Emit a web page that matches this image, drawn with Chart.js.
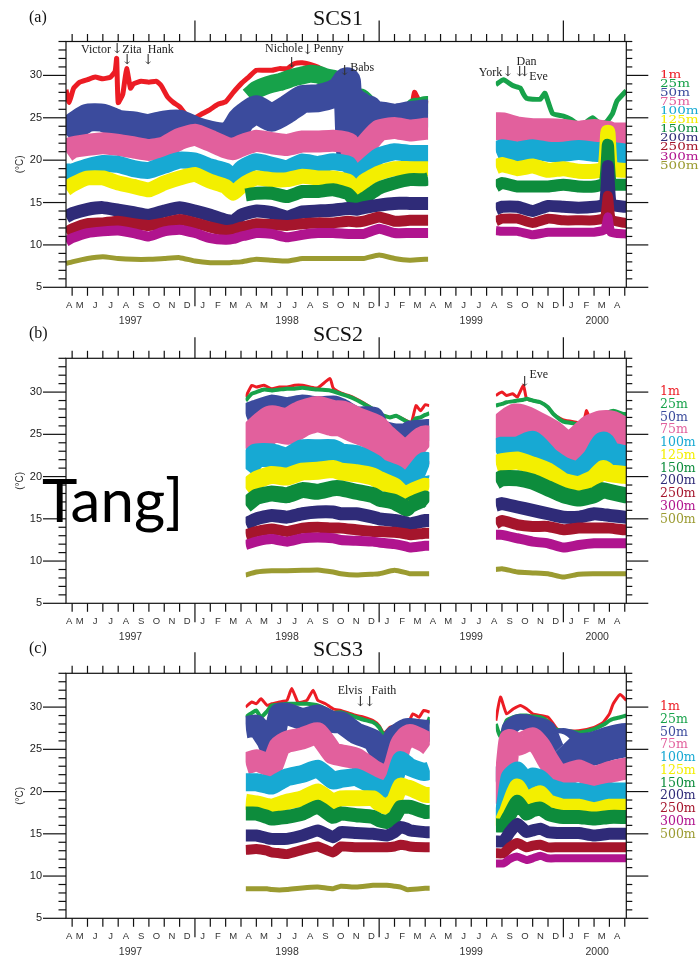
<!DOCTYPE html>
<html><head><meta charset="utf-8">
<script src="https://cdn.jsdelivr.net/npm/chart.js@4/dist/chart.umd.min.js"></script>
<style>
html,body{margin:0;padding:0;background:#fff;}
#wrap{position:relative;width:699px;height:957px;overflow:hidden;background:#fff;}
canvas{position:absolute;left:0;}
</style></head><body>
<div id="wrap">
<canvas id="cA" width="699" height="330" style="top:0px"></canvas>
<canvas id="cB" width="699" height="330" style="top:316px"></canvas>
<canvas id="cC" width="699" height="326" style="top:631px"></canvas>
</div>
<script>
// ---- labels ----
const depths = ['1m','25m','50m','75m','100m','125m','150m','200m','250m','300m','500m'];
const monthLetters = ['J','F','M','A','M','J','J','A','S','O','N','D'];
const yearLabels = ['1997','1998','1999','2000'];
const yearCenters = [7.8, 18, 30, 38.2];          // months since Jan 1997
const yTickLabels = [5,10,15,20,25,30];

// ---- SCS1 (months since 1 Jan 1997) ----
const scs1_deploy = [[3.6, 27.2], [31.6, 40.1]];
const scs1_t = [3.6,4,5,6,7,8,9,10,11,12, 13,14,14.5,15,15.3,16,17,18,19,20, 21,22,22.5,23,24,25,26,27,27.2,29, 31.6,32,33,34,35,36,37,38,38.7,38.9, 39.1,40,40.1];
const scs1_t50 = [3.6,4,5,6,7,8,9,10,11,12, 13,14,14.5,15,15.3,16,17,18,19,20, 21,21.5,21.9,22.1,22.3,22.5,22.7,23,23.3,23.6, 24,25,26,27,27.2];
const scs1_50m  = [23,23.8,25,25,24.3,24.1,23.8,24.2,24.3,23.5, 23,22.8,23.3,24.7,25.2,26,25,26,27.2,27.3, 27.8,28.3,29.3,21,27,21.5,26.5,22.5,26,25, 25.3,25,25.3,25.5,25.5];
const scs1_75m  = [21,21.5,21.8,22,21.8,21.5,21.2,21.5,22.5,23, 22.3,21.5,21.3,21.7,21.9,22.3,22,21.8,22.2,22.2, 22.3,22,19.5,21.5,23.5,23.8,23.5,23.7,23.7,null, 24,24,23.5,23.3,23.3,23.2,23,23.2,23,23, 22.8,22.8,22.8];
const scs1_100m = [18.6,18.6,19.2,19.6,19.5,19,18.8,19.4,20,19.9, 19.2,18.7,17.9,18.9,19.3,19.8,19.4,19,19.8,19.5, 19.8,19.5,18,19,20.5,21,20.8,20.8,20.8,null, 21,21.3,21,21.3,21,21,21.2,21,21,21.5, 21,20.8,20.8];
const scs1_125m = [16.6,17.1,17.9,17.9,17.3,16.9,16.5,17.3,17.9,18.3, 17.5,16.9,16.1,16.9,17.3,17.9,17.7,17.7,18.1,17.9, 17.9,17.5,16.5,17.5,18.5,19,19,19,19,null, 19.2,19.5,19,19.3,18.8,19,18.7,18.7,19,23.3, 19,18.8,18.8];
const scs1_150m = [null,null,null,null,null,null,null,null,null,null, null,null,null,null,15.9,16.1,16.1,15.7,16.3,16.3, 16.5,16,15,15.5,16.7,17.3,17.7,17.7,17.8,null, 16.9,17.3,16.9,16.9,16.9,17.1,16.9,16.9,17.3,21.8, 17.2,17.1,17.1];
const scs1_200m = [13.3,13.7,14.2,14.4,14.1,13.8,13.5,14,14.4,14, 13.5,12.9,12.8,13.5,13.7,14,13.8,13.3,13.9,14, 14.1,14.3,14.2,14.4,14.7,14.9,14.9,14.9,14.9,null, 14.2,14.5,14.5,14,14.6,14.5,14.4,14.5,14.8,19.3, 14.8,14.5,14.5];
const scs1_250m = [11.5,11.9,12.5,12.6,12.8,12.5,12.3,12.6,13,12.6, 12.1,11.7,11.8,12.1,12.2,12.5,12.4,12.3,12.5,12.6, 12.6,12.8,12.7,12.8,13.3,12.8,12.9,12.9,12.9,null, 12.8,13.1,13.1,12.6,13.1,12.9,12.9,12.9,13.2,15.8, 13,12.6,12.6];
const scs1_300m = [10.4,10.8,11.4,11.6,11.7,11.4,11,11.6,11.8,11.4, 10.8,10.6,10.7,11,11.1,11.4,11.3,10.9,11.2,11.4, 11.4,11.3,11.3,11.3,11.9,11.4,11.4,11.4,11.4,null, 11.7,11.6,11.6,11.2,11.5,11.5,11.5,11.5,11.8,13.3, 11.5,11.3,11.3];
const scs1_500m = [7.8,8,8.4,8.6,8.4,8.3,8.3,8.4,8.5,8.1, 7.9,7.9,7.95,8,8.1,8.3,8.2,8.1,8.4,8.4, 8.4,8.4,8.4,8.4,8.8,8.4,8.2,8.3,8.3,null, null,null,null,null,null,null,null,null,null,null, null,null,null];
const scs1_tTop = [3.6,3.8,4.1,4.5,5,5.5,6,6.5,6.8,6.9, 7,7.3,7.55,7.8,8,8.5,9,9.5,9.8,10.2, 10.6,11,11.5,12,12.5,13,13.5,14,14.5,15, 15.5,16,16.5,17,17.5,18,18.5,19,19.5,20, 20.5,21,21.5,21.9,22.2,22.8,23.5,24,24.5,25, 25.5,26,26.3,26.6,27,27.2,29,31.6,32.1,32.7, 33.2,33.4,33.6,34,34.5,34.8,35.3,36,36.5,37.1, 37.5,37.9,38.4,38.8,39.2,39.5,40.1];
const scs1_1m  = [28.3,26.8,28.5,29.2,29.5,29.8,29.6,29.8,30.5,32, 26.8,27.8,30.8,28.5,29,29.3,29.2,29.3,28.8,27.5, 26.8,26.3,25.2,25,25.5,26,26.6,26.9,28,29, 29.8,30.6,30.6,30.6,30.8,30.8,31.4,31.5,31.3,31, 30.5,30.2,29.8,29.3,26.2,27.2,26.3,25.5,24.8,24.5, 24.7,25,28,27,26.8,26.7,null,null,null,null, null,null,null,null,null,null,null,null,null,null, null,null,null,null,null,null,null];
const scs1_25m = [null,null,null,null,null,null,null,null,null,null, null,null,null,null,null,null,null,null,null,null, null,null,null,null,null,null,null,null,null,null, 27.5,28.3,28.7,29,29.2,29.5,29.8,30,30.2,30.1, 29.8,29.6,29.3,29,26.2,27.4,26.2,25.3,24.6,24.3, 24.5,24.9,26.3,26.3,26.5,26.5,null,28.9,29.5,28.8, 28.5,27.8,27.3,27.2,27.2,27.9,25.5,25.2,24.8,24.1, 24.5,25,24.3,24.5,25.5,27,28.2];

// ---- SCS2 ----
const scs2_deploy = [[15.3, 27.27], [31.6, 40.1]];
const scs2_t = [15.3,16,17,18,19,20,21,21.5,22.5,23.6, 24,25,25.8,26,27,27.27,29,31.6,32,33, 34,35,36,37,38,38.6,39,40,40.1];
const scs2_50m  = [27.3,27.8,28.4,28.1,28.4,28.2,28.3,28,27,27, 25.5,25,25,25.3,25.5,25.5,null,null,null,null, null,null,null,null,null,null,null,null,null];
const scs2_75m  = [23.3,24.7,26.3,25.9,26.9,27.4,26.9,26.9,26.1,25.3, 24.5,22.9,21.1,22.1,23.9,23.5,null,24.3,24.9,26.3, 25.5,24.5,23.1,23.5,25.1,25.5,25.5,24.5,24.5];
const scs2_100m = [20.9,22.5,22.5,22,23,23,23,22.5,22.3,21.3, 20.7,20,18.8,19.2,21.5,21.3,null,22.9,23.3,23.3, 24,22.1,20.9,20.4,22.1,23.9,22.7,22.3,22.3];
const scs2_125m = [18.6,19.6,20.2,20,20.6,20.7,20.9,20.6,20.4,20, 19.6,18.8,17.4,18,18.8,18.6,null,21.5,21.7,21.9, 21.3,20.6,19.4,19,19.8,20.9,20.4,20.2,20.2];
const scs2_150m = [16.6,17.6,18,17.8,18.4,18.2,18.6,18.6,18.2,17.8, 17.4,17,16.2,16.6,17.4,17,null,19.4,19.8,19.8, 19.4,18.6,17.8,17.4,17.8,18.4,18.2,17.8,17.8];
const scs2_200m = [14.4,15,15.4,15.2,15.6,15.8,15.8,15.6,15.6,15.2, 15,14.8,14.5,14.4,14.8,14.8,null,16.6,16.8,16.4, 16,15.6,15.2,15.2,15.6,15.5,15.4,15.2,15.2];
const scs2_250m = [13.1,13.5,13.8,13.5,13.9,14,13.9,13.9,13.7,13.5, 13.5,13.4,13.2,13.1,13.3,13.3,null,14.4,14.8,14.3, 14.1,14.1,13.7,13.9,13.9,13.9,13.9,13.7,13.7];
const scs2_300m = [11.9,12.3,12.6,12.3,12.7,12.8,12.7,12.5,12.4,12.3, 12.2,12,11.7,11.6,11.8,11.8,null,13.1,13.1,12.7, 12.3,12.1,11.6,11.9,12.1,12.1,12.1,12.1,12.1];
const scs2_500m = [8.35,8.7,8.85,8.85,8.9,8.95,8.7,8.5,8.35,8.45, 8.5,8.9,8.6,8.5,8.5,8.5,null,9,9.1,8.7, 8.6,8.5,8.1,8.45,8.5,8.5,8.5,8.5,8.5];
const scs2_tTop = [15.3,15.7,16,16.5,17,17.5,18,18.5,19,19.5, 20,20.8,21,21.5,22,22.5,23,23.6,24,24.7, 25.1,25.8,26.1,26.4,26.7,27,27.27,29,31.6,32, 32.3,32.7,33,33.4,33.6,34,34.5,35,35.35,36, 36.65,37.3,37.5,37.7,37.95,38.6,39.25,39.9,40.1];
const scs2_1m  = [29.4,30.8,30.6,30.8,30.4,30.6,30.6,30.8,30.8,30.6, 30.5,31.6,30.5,29.9,29.6,29.2,28.7,28,27.4,27, 27.2,26.6,26.4,28.4,27.8,28.5,28.4,null,29.6,30, 29.6,29.8,29.4,30.8,29.2,29,28.8,28.2,27.4,26.7, 26.5,26.4,27.8,26.9,null,null,null,null,null];
const scs2_25m = [29,29.8,30,30.3,30.2,30.3,30.4,30.4,30.5,30.4, 30.3,30.2,30.1,29.8,29.5,29.1,28.6,28,27.4,27, 27.2,26.5,26.3,26.9,27,27.3,27.5,null,28.4,28.6, 28.8,28.9,29,29.1,29.2,29,28.8,28.2,27.4,26.5, 26.3,26.1,26.6,26.9,27.2,27.4,27.8,27.4,27.4];

// ---- SCS3 ----
const scs3_deploy = [[15.3, 27.3], [31.6, 40.1]];
const scs3_t = [15.3,16,16.7,17,17.5,18,19,20,21,21.5, 22.5,23.6,24,24.5,25,25.4,25.8,26,27,27.3, 29,31.6,32.1,32.5,33,33.6,34,34.5,35,35.6, 36,37,38,39,40,40.1];
const scs3_50m  = [27.6,27.8,26.1,25,29.2,29.2,28.6,29,28.2,28.2, 26.9,26.1,24.9,24.1,26.5,27,27.4,27.4,27.2,27.2, null,23,21.5,27.5,28.2,28.2,28,27.8,27.4,24.9, 25.5,24.9,25.1,25.7,26.1,26.1];
const scs3_75m  = [23.3,23.7,23.2,22.9,25.3,25.9,26.3,26.9,24.5,24.3, 23.9,22.5,22.1,21.6,23,25.5,26.5,26.7,25.9,25.5, null,21.3,19.5,26.1,25.5,26,26.3,25.3,23.7,22.1, 21.9,22.5,21.7,22.3,22.7,22.7];
const scs3_100m = [21.1,21.1,20.8,20.7,21.2,21.7,22.1,22.7,21.3,21.5, 21.7,20.7,20.4,20.2,21.5,23.7,23.2,22.9,22.3,22.5, null,18.2,17.5,21.7,22.5,21.1,21.8,21.5,20.6,20.2, 20,20,19.6,20,20,20];
const scs3_125m = [18.8,18.6,18.3,18.2,18.5,18.8,19.2,20,18.8,19.2, 19.2,19.2,18.6,18.2,19,20.7,20.5,20.4,19.6,19.6, null,17,16.6,18.5,20.6,18.8,19.4,19.8,18.8,18.4, 18.2,18.2,17.8,18.2,18.2,18.2];
const scs3_150m = [17.4,17.4,17,16.8,16.9,17,17.4,18.2,17,17.4, 17.2,17,16.6,16.4,17,18.2,18.2,18.2,17.6,17.6, null,16,16,17.2,18.8,17.4,17.8,18,17.4,17.1, 17,17,16.8,17,17,17];
const scs3_200m = [14.8,14.8,14.5,14.4,14.4,14.4,14.8,15.4,14.6,15.2, 15.1,15,14.9,14.8,15.2,15.8,15.6,15.4,15.2,15.2, null,14.1,14.1,15.2,16.2,15.2,15.4,15.6,15.2,15.1, 15.1,15.1,14.8,15,15,15];
const scs3_250m = [13.1,13.2,13,12.8,12.7,12.6,13.1,13.5,12.8,13.5, 13.4,13.4,13.4,13.4,13.5,13.7,13.6,13.5,13.4,13.4, null,12.7,12.7,13.4,13.9,13.4,13.6,13.7,13.4,13.4, 13.4,13.4,13.4,13.4,13.4,13.4];
const scs3_300m = [null,null,null,null,null,null,null,null,null,null, null,null,null,null,null,null,null,null,null,null, null,11.5,11.5,12,12.3,11.9,12.1,12.4,12.1,12.1, 12.1,12.1,12.1,12.1,12.1,12.1];
const scs3_500m = [8.5,8.5,8.5,8.4,8.35,8.4,8.6,8.7,8.5,8.8, 8.7,8.9,8.9,8.9,8.8,8.7,8.4,8.4,8.55,8.55, null,null,null,null,null,null,null,null,null,null, null,null,null,null,null,null];
const scs3_tTop = [15.3,15.7,16,16.3,16.7,17,17.5,18,18.3,18.7, 19,19.3,19.7,20,20.5,21,21.5,22,22.5,23, 23.6,24,24.3,24.7,25.1,25.8,26.2,26.6,26.9,27.3, 29,31.6,31.9,32.3,32.75,33.2,33.6,34,34.5,35, 35.35,35.6,36,37,38,38.6,39,39.25,39.7,40.1];
const scs3_1m  = [30,30.6,30.4,31,30.2,30.4,30.6,30.8,32.2,30.6, 30.6,30.8,32,30.8,30.4,29.8,29.6,29.3,29,28.8, 28.4,27.8,26.9,27.6,27.8,27.8,29.2,28.8,29.6,29.4, null,28.4,31.2,29.2,29.8,30.2,29.8,29.2,29,28.8, 28,27.4,27.2,27.2,27.6,28.2,29.2,30.4,31.5,30.8];
const scs3_25m = [28.8,29.3,29.6,28.8,29.5,30.2,30.3,30.4,30.4,30.4, 30.4,30.4,30.3,30.2,29.8,29.3,29.4,29.1,28.8,28.5, 28.2,27.6,26.7,27.4,27.8,27.4,27.5,27.6,26.9,28.8, null,28,26.5,28.4,28.8,29,29,28.9,28.8,28.3, 27.6,27.3,27.2,27,27.4,27.9,28.4,28.6,28.8,29];

// ---- storm annotations (month, degC) ----
const notesA = [
  {s:'Victor',x:5.55,y:33.0},{s:'\u2193',x:6.94,y:33.1,a:1},{s:'Zita',x:7.9,y:33.0},{s:'\u2193',x:7.59,y:31.8,a:1},
  {s:'Hank',x:9.78,y:33.0},{s:'\u2193',x:8.96,y:31.8,a:1},{s:'Nichole',x:17.8,y:33.1},{s:'\u2193',x:18.32,y:31.4,a:1},
  {s:'\u2193',x:19.36,y:33.0,a:1},{s:'Penny',x:20.7,y:33.1},{s:'\u2193',x:21.77,y:30.5,a:1},{s:'Babs',x:22.9,y:30.9},
  {s:'York',x:31.25,y:30.3},{s:'\u2193',x:32.4,y:30.4,a:1},{s:'Dan',x:33.6,y:31.6},{s:'\u2193',x:33.17,y:30.35,a:1},
  {s:'\u2193',x:33.5,y:30.35,a:1},{s:'Eve',x:34.38,y:29.84}
];
const notesB = [{s:'Eve',x:34.4,y:32.0},{s:'\u2193',x:33.5,y:31.15,a:1}];
const notesC = [{s:'Elvis',x:22.1,y:31.94},{s:'Faith',x:24.31,y:31.94},{s:'\u2193',x:22.8,y:30.55,a:1},{s:'\u2193',x:23.4,y:30.55,a:1}];

// ---- styles ----
const colors = ['#ec1c24','#17a24a','#3b4b9d','#e2609d','#17a9d3','#f3ef00','#0d8c3c','#2f2b78','#a5152c','#b0148e','#9b9b31'];

const deployClip = {
  id: 'deployClip',
  beforeDatasetsDraw(chart, args, o) {
    const ctx = chart.ctx, xs = chart.scales.x, a = chart.chartArea;
    ctx.save();
    ctx.beginPath();
    o.ranges.forEach(r => {
      const x0 = xs.getPixelForValue(r[0]), x1 = xs.getPixelForValue(r[1]);
      ctx.rect(x0, a.top, x1 - x0, a.bottom - a.top);
    });
    ctx.clip();
  },
  afterDatasetsDraw(chart) { chart.ctx.restore(); }
};

const framePlugin = {
  id: 'frame',
  afterDraw(chart, args, o) {
    const ctx = chart.ctx, xs = chart.scales.x, ys = chart.scales.y, a = chart.chartArea;
    const ln = (x1,y1,x2,y2) => { ctx.beginPath(); ctx.moveTo(x1,y1); ctx.lineTo(x2,y2); ctx.stroke(); };
    ctx.save();
    ctx.strokeStyle = '#111'; ctx.lineWidth = 1.2;
    ctx.strokeRect(a.left, a.top, a.right - a.left, a.bottom - a.top);
    for (let v = 5; v <= 34; v++) {
      const y = ys.getPixelForValue(v), major = v % 5 === 0;
      ln(a.left - (major ? 23 : 7.5), y, a.left, y);
      ln(a.right, y, a.right + (major ? 22 : 6), y);
    }
    for (let m = 4; m <= 40; m++) {
      const x = xs.getPixelForValue(m), yr = m % 12 === 0;
      ln(x, a.top, x, a.top - (yr ? 21 : 7.5));
      ln(x, a.bottom, x, a.bottom + (yr ? 19 : 8.5));
    }
    ctx.fillStyle = '#222';
    ctx.font = '11px "Liberation Sans", Arial, sans-serif';
    ctx.textAlign = 'right'; ctx.textBaseline = 'middle';
    yTickLabels.forEach(v => ctx.fillText(String(v), a.left - 24, ys.getPixelForValue(v)));
    ctx.fillStyle = '#333';
    ctx.font = '9.5px "Liberation Sans", Arial, sans-serif';
    ctx.textAlign = 'center';
    for (let m = 3; m <= 39; m++) {
      const c = m === 3 ? (xs.min + 4) / 2 : m + 0.5;
      ctx.fillText(monthLetters[m % 12], xs.getPixelForValue(c), a.bottom + 18.5);
    }
    ctx.font = '10.5px "Liberation Sans", Arial, sans-serif';
    yearLabels.forEach((s, i) => ctx.fillText(s, xs.getPixelForValue(yearCenters[i]), a.bottom + 33.5));
    ctx.save();
    ctx.translate(20, (a.top + a.bottom) / 2); ctx.rotate(-Math.PI / 2);
    ctx.font = '10px "Liberation Sans", Arial, sans-serif'; ctx.fillStyle = '#333';
    ctx.fillText('(\u00B0C)', 0, 0);
    ctx.restore();
    ctx.fillStyle = '#111';
    ctx.textBaseline = 'alphabetic';
    ctx.font = '22px "Liberation Serif", "Times New Roman", serif';
    ctx.textAlign = 'center';
    ctx.fillText(o.title, 338, a.top - 17);
    ctx.font = '16px "Liberation Serif", "Times New Roman", serif';
    ctx.textAlign = 'left';
    ctx.fillText(o.tag, 29, a.top - 20);
    ctx.textAlign = 'center'; ctx.textBaseline = 'middle';
    o.notes.forEach(n => {
      ctx.font = n.a ? '14px "DejaVu Serif", serif' : '12px "Liberation Serif", serif';
      ctx.fillStyle = n.a ? '#333' : '#222';
      ctx.fillText(n.s, xs.getPixelForValue(n.x), ys.getPixelForValue(n.y));
    });
    ctx.textAlign = 'left';
    depths.forEach((d, i) => {
      ctx.save();
      ctx.translate(660, a.top + 33.5 + i * o.legendStep);
      ctx.scale(1, o.legendSY);
      ctx.font = o.legendFont;
      ctx.fillStyle = colors[i];
      ctx.fillText(d, 0, 0);
      ctx.restore();
    });
    if (o.overlay) {
      ctx.fillStyle = '#000';
      ctx.textBaseline = 'alphabetic';
      ctx.font = '60px Lato, "Open Sans", sans-serif';
      ctx.fillText(o.overlay, 42, 521.5 - o.canvasTop);
    }
    ctx.restore();
  }
};

// series: list of [timeArray, valueArray]; widths: list of [fromMonth, px] steps per series
function makeChart(id, series, widths, padTop, padBottom, deploy, frame) {
  const datasets = depths.map((d, i) => {
    const [tArr, vals] = series[i];
    const steps = widths[i];
    const wAt = x => { let w = steps[0][1]; steps.forEach(s => { if (x >= s[0]) w = s[1]; }); return w; };
    return {
      label: d,
      data: tArr.map((x, k) => ({x: x, y: vals[k]})),
      borderColor: colors[i],
      backgroundColor: colors[i],
      borderWidth: steps[0][1],
      segment: { borderWidth: c => wAt(c.p0.parsed.x) },
      pointRadius: 0,
      fill: false,
      tension: 0.15,
      spanGaps: false,
      order: 20 - i,
      clip: 0,
      borderJoinStyle: 'round',
      borderCapStyle: 'butt'
    };
  });
  return new Chart(document.getElementById(id), {
    type: 'line',
    data: { datasets },
    options: {
      responsive: false, animation: false, devicePixelRatio: 1, events: [],
      layout: { padding: { left: 66, right: 72.7, top: padTop, bottom: padBottom } },
      scales: {
        x: { type: 'linear', min: 3.6, max: 40.1, display: false },
        y: { type: 'linear', min: 5, max: 34, display: false }
      },
      plugins: { legend: { display: false }, tooltip: { enabled: false }, frame: frame, deployClip: { ranges: deploy } }
    },
    plugins: [deployClip, framePlugin]
  });
}

const two = (a, b) => [[0, a], [29, b]];

makeChart('cA',
  [[scs1_tTop, scs1_1m], [scs1_tTop, scs1_25m], [scs1_t50, scs1_50m], [scs1_t, scs1_75m], [scs1_t, scs1_100m], [scs1_t, scs1_125m],
   [scs1_t, scs1_150m], [scs1_t, scs1_200m], [scs1_t, scs1_250m], [scs1_t, scs1_300m], [scs1_t, scs1_500m]],
  [two(5,5), two(18,5), two(28,28), two(22,28), two(17,20), two(15,15), two(13,12), two(13,12), two(11,10), two(10,9), two(5,5)],
  41.5, 42.7, scs1_deploy,
  { title: 'SCS1', tag: '(a)', notes: notesA, legendStep: 9.1, legendSY: 0.75, legendFont: '13.5px "DejaVu Serif", serif', canvasTop: 0 });

makeChart('cB',
  [[scs2_tTop, scs2_1m], [scs2_tTop, scs2_25m], [scs2_t, scs2_50m], [scs2_t, scs2_75m], [scs2_t, scs2_100m], [scs2_t, scs2_125m],
   [scs2_t, scs2_150m], [scs2_t, scs2_200m], [scs2_t, scs2_250m], [scs2_t, scs2_300m], [scs2_t, scs2_500m]],
  [two(3,3), two(4,4), two(22,22), two(36,40), two(24,24), two(18,18), two(16,16), two(13,13), two(11,11), two(10,10), two(5,5)],
  42.3, 42.7, scs2_deploy,
  { title: 'SCS2', tag: '(b)', notes: notesB, legendStep: 12.75, legendSY: 1, legendFont: '12.5px "DejaVu Serif", serif', canvasTop: 316, overlay: 'Tang]' });

makeChart('cC',
  [[scs3_tTop, scs3_1m], [scs3_tTop, scs3_25m], [scs3_t, scs3_50m], [scs3_t, scs3_75m], [scs3_t, scs3_100m], [scs3_t, scs3_125m],
   [scs3_t, scs3_150m], [scs3_t, scs3_200m], [scs3_t, scs3_250m], [scs3_t, scs3_300m], [scs3_t, scs3_500m]],
  [two(3,3), two(4,4), [[0,22],[29,16],[35.3,34]], two(22,22), two(18,18), two(16,16), two(14,14), two(12,12), two(10,10), two(8,8), two(5,5)],
  42.3, 38.7, scs3_deploy,
  { title: 'SCS3', tag: '(c)', notes: notesC, legendStep: 12.75, legendSY: 1, legendFont: '12.5px "DejaVu Serif", serif', canvasTop: 631 });
</script>
</body></html>
